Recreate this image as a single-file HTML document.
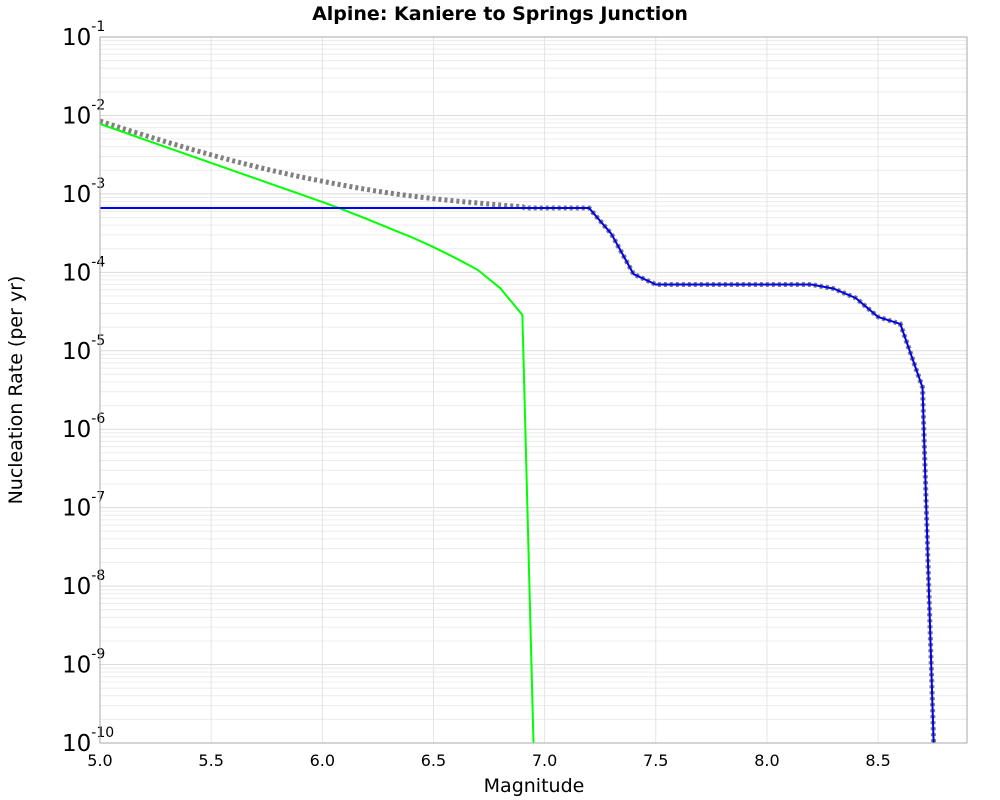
<!DOCTYPE html>
<html><head><meta charset="utf-8"><style>
body{margin:0;background:#fff;}
svg{display:block;font-family:"DejaVu Sans","Liberation Sans",sans-serif;}
</style></head><body>
<svg id="chart" width="1000" height="800" xmlns="http://www.w3.org/2000/svg">
<rect width="1000" height="800" fill="#fff"/>
<text x="500" y="20" text-anchor="middle" font-size="19" font-weight="bold">Alpine: Kaniere to Springs Junction</text>
<g id="grid"></g>
<g id="axes"></g>
<g id="series"></g>
<rect x="100" y="37" width="867" height="706" fill="none" stroke="#aaa" stroke-width="1"/>
<text x="534" y="792" text-anchor="middle" font-size="19">Magnitude</text>
<text x="22" y="390" text-anchor="middle" font-size="19" transform="rotate(-90 22 390)">Nucleation Rate (per yr)</text>
</svg>
<script>
const xTicks = [5.0,5.5,6.0,6.5,7.0,7.5,8.0,8.5];
const yExps = [-1,-2,-3,-4,-5,-6,-7,-8,-9,-10];
const greenMags = [5.0,6.0,6.1,6.2,6.3,6.4,6.5,6.6,6.7,6.8,6.9,6.95];
const greenRates = [7.8e-3,7.9e-4,6.2e-4,4.8e-4,3.67e-4,2.82e-4,2.1e-4,1.52e-4,1.07e-4,6.3e-5,2.86e-5,1e-10];
const blueMags = [5.0,7.2,7.3,7.4,7.5,8.2,8.3,8.4,8.5,8.6,8.7,8.71,8.72,8.73,8.74,8.75];
const blueRates = [6.6e-4,6.6e-4,3.1e-4,9.5e-5,7.0e-5,7.0e-5,6.2e-5,4.7e-5,2.7e-5,2.2e-5,3.4e-6,4.2e-7,5.2e-8,6.5e-9,8.1e-10,1e-10];

const X0=100,X1=967,Y0=37,Y1=743,XMIN=5.0,XMAX=8.9,LMAX=-1,LMIN=-10;
const sx=m=>X0+(m-XMIN)/(XMAX-XMIN)*(X1-X0);
const sy=v=>Y0+(LMAX-Math.log10(v))/(LMAX-LMIN)*(Y1-Y0);
const NS="http://www.w3.org/2000/svg";
function mk(tag,attrs,parent){const e=document.createElementNS(NS,tag);for(const k in attrs)e.setAttribute(k,attrs[k]);parent.appendChild(e);return e;}
const grid=document.getElementById('grid'),axes=document.getElementById('axes'),series=document.getElementById('series');

for(let e=-10;e<-1;e++){for(let k=1;k<10;k++){const y=sy(k*Math.pow(10,e));
 const l=mk('line',{x1:X0,x2:X1,y1:y,y2:y,stroke:k===1?'#dcdcdc':'#ececec','stroke-width':1},grid);
 
 }}
xTicks.forEach(t=>{const x=sx(t);
 const l=mk('line',{x1:x,x2:x,y1:Y0,y2:Y1,stroke:'#e4e4e4','stroke-width':1},grid);
 
 
 const tx=mk('text',{x:x,y:766,'text-anchor':'middle','font-size':'16'},axes);
 tx.textContent=t.toFixed(1);
 
 });
yExps.forEach(e=>{const y=sy(Math.pow(10,e));
 const tx=mk('text',{x:62,y:y+8,'font-size':'23'},axes);
 tx.textContent='10';
 
 
 const sp=mk('tspan',{dy:-14,'font-size':'14'},tx);sp.textContent=String(e);});

function interpLog(ms,rs,m){if(m<ms[0]||m>ms[ms.length-1])return 0;
 for(let i=0;i<ms.length-1;i++){if(m>=ms[i]&&m<=ms[i+1]){const f=(m-ms[i])/(ms[i+1]-ms[i]);
  return Math.pow(10,Math.log10(rs[i])+f*(Math.log10(rs[i+1])-Math.log10(rs[i])));}}return 0;}
// total = blue + green on fine grid
const totalPts=[];
for(let i=0;i<=370;i++){const m=5.0+i*0.01;const b=interpLog(blueMags,blueRates,m);const g=m<=6.95?interpLog(greenMags,greenRates,m):0;totalPts.push([m,b+g]);}
for(let i=1;i<=5;i++){const m=8.70+i*0.01;totalPts.push([m,interpLog(blueMags,blueRates,m)]);}
const pt=totalPts.map(p=>sx(p[0])+','+sy(p[1])).join(' ');
const tot=mk('polyline',{points:pt,fill:'none',stroke:'#808080','stroke-width':5,'stroke-dasharray':'3,3'},series);


const gl=mk('polyline',{points:greenMags.map((m,i)=>sx(m)+','+sy(greenRates[i])).join(' '),fill:'none',stroke:'#00ff00','stroke-width':2},series);


const bl=mk('polyline',{points:blueMags.map((m,i)=>sx(m)+','+sy(blueRates[i])).join(' '),fill:'none',stroke:'#0000ee','stroke-width':2},series);


</script>
</body></html>
